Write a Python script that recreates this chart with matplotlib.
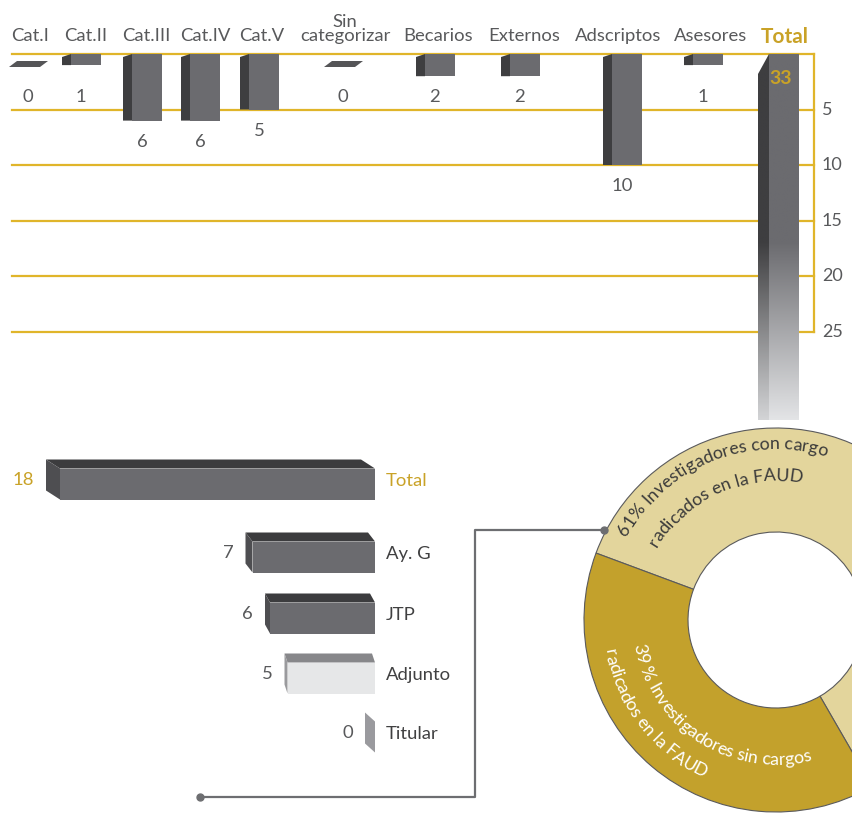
import numpy as np
import matplotlib
matplotlib.use('Agg')
import matplotlib.pyplot as plt
from matplotlib.patches import Polygon
from matplotlib.font_manager import FontProperties, findfont, get_font

plt.rcParams['font.family'] = ['Lato', 'DejaVu Sans']

W, H = 852, 813

# datos
cats = ['Cat.I', 'Cat.II', 'Cat.III', 'Cat.IV', 'Cat.V', 'Sin\ncategorizar',
        'Becarios', 'Externos', 'Adscriptos', 'Asesores', 'Total']
counts = [0, 1, 6, 6, 5, 0, 2, 2, 10, 1, 33]
ticks = [5, 10, 15, 20, 25]

cargos = ['Total', 'Ay. G', 'JTP', 'Adjunto', 'Titular']
cargo_counts = [18, 7, 6, 5, 0]

shares = [61, 39]
share_lines = [['61% Investigadores con cargo', 'radicados en la FAUD'],
               ['39 % Investigadores sin cargos', 'radicados en la FAUD']]

# layout en pixeles
cat_x = [28, 86, 147, 205, 264, 343, 440, 525, 627, 708, 784]
label_x = [30, 86, 146, 205, 262, 345, 438, 524, 618, 711, 785]
row_y = [484, 557, 618, 678, 737]
depth = [14, 7, 5, 3, 10]

GOLD = '#c9a227'
GRID = '#e0b52a'
TXT = '#58595b'
FRONT = '#6b6b6f'
SIDE = '#3e3e40'

fig = plt.figure(figsize=(W / 100, H / 100), dpi=100)
fig.patch.set_facecolor('white')

# ---- barras verticales (arriba) ----
y0, k = 54, 11.1
ax = fig.add_axes([0, 0, 1, 1])
ax.set_facecolor('none')
ax.axis('off')

for t in [0] + ticks:
    ax.plot([12, 814], [t, t], color=GRID, lw=1.6, zorder=1)
    if t:
        ax.text(822, t, str(t), ha='left', va='center', fontsize=13, color=TXT)
ax.plot([814, 814], [0, ticks[-1]], color=GRID, lw=1.6, zorder=1)


def vgrad(top, bot, start, end, n=300):
    vv = np.linspace(0, end, n)
    f = np.clip((vv - start) / (end - start), 0, 1)[:, None]
    top = np.array(matplotlib.colors.to_rgb(top))
    bot = np.array(matplotlib.colors.to_rgb(bot))
    return (top * (1 - f) + bot * f)[:, None, :]


for xc, lx, v, lab in zip(cat_x, label_x, counts, cats):
    is_total = lab == 'Total'
    if v == 0:
        ax.add_patch(Polygon([(xc - 19, 13 / k), (xc - 11, 7 / k), (xc + 20, 7 / k), (xc + 12, 13 / k)],
                             closed=True, fc='#555557', ec='none', zorder=3))
    elif not is_total:
        ax.bar(xc, v, width=30, bottom=0, color=FRONT, zorder=3)
        ax.add_patch(Polygon([(xc - 24, 3 / k), (xc - 15, 0), (xc - 15, v), (xc - 24, v)],
                             closed=True, fc=SIDE, ec='none', zorder=3))
    else:
        bar = ax.bar(xc, v, width=30, bottom=0, color='none', zorder=3)[0]
        im = ax.imshow(vgrad(FRONT, '#e3e4e6', 17, v), extent=(xc - 15, xc + 15, v, 0),
                       origin='upper', aspect='auto', interpolation='bilinear', zorder=3)
        im.set_clip_path(bar)
        side = Polygon([(xc - 26, 20 / k), (xc - 15, 0), (xc - 15, v), (xc - 26, v)],
                       closed=True, fc='none', ec='none')
        ax.add_patch(side)
        im2 = ax.imshow(vgrad(SIDE, '#d3d4d6', 17, v), extent=(xc - 26, xc - 15, v, 0),
                        origin='upper', aspect='auto', interpolation='bilinear', zorder=3)
        im2.set_clip_path(side)

    # etiquetas
    if is_total:
        ax.text(lx, -7 / k, lab, ha='center', va='bottom', fontsize=15,
                fontweight='bold', color=GOLD)
        ax.text(xc - 3, 24 / k, str(v), ha='center', va='center', fontsize=14,
                fontweight='bold', color=GOLD, zorder=5)
    else:
        ax.text(lx, -10 / k, lab, ha='center', va='bottom',
                fontsize=13.3, color=TXT, linespacing=0.85)
        ax.text(xc if v == 0 else xc - 5, max(v, 2) + 1.9, str(v), ha='center',
                va='center', fontsize=13.3, color=TXT)

ax.set_xlim(0, W)
ax.set_ylim((H - y0) / k, -y0 / k)

# ---- barras horizontales ----
s = 17.5
axh = fig.add_axes([0, 0, 1, 1])
axh.set_facecolor('none')
axh.axis('off')

front_c = [FRONT, FRONT, FRONT, '#e6e7e8', '#9a9a9e']
top_c = ['#3c3c3e', '#3c3c3e', '#3c3c3e', '#87878a', '#9a9a9e']
left_c = ['#4e4e51', '#4e4e51', '#4e4e51', '#9a9a9d', '#9a9a9e']
hb = 15.5
for yc, v, lab, d, fc, tc, lc in zip(row_y, cargo_counts, cargos, depth, front_c, top_c, left_c):
    if v > 0:
        axh.barh(yc, v, height=2 * hb, left=0, color=fc, zorder=3)
        axh.add_patch(Polygon([(v, yc - hb), (0, yc - hb), (d / s, yc - hb - 9), (v + d / s, yc - hb - 9)],
                              closed=True, fc=tc, ec='none', zorder=3))
    axh.add_patch(Polygon([(v, yc - hb), (v + d / s, yc - hb - 9), (v + d / s, yc + hb - 9), (v, yc + hb)],
                          closed=True, fc=lc, ec='none', zorder=3))
    col = GOLD if lab == 'Total' else '#404041'
    axh.text(v + (d + 12) / s, yc - 4, str(v), ha='right', va='center', fontsize=13.3,
             color=GOLD if lab == 'Total' else TXT)
    axh.text(-11 / s, yc - 3, lab, ha='left', va='center', fontsize=13.3, color=col)

axh.set_xlim(375 / s, (375 - W) / s)
axh.set_ylim(H, 0)

# ---- anillo ----
axd = fig.add_axes([0, 0, 1, 1])
axd.set_facecolor('none')
axd.axis('off')
cx, cy = 776, H - 620
axd.pie(shares, colors=['#e3d59c', '#c3a12c'], startangle=-60, center=(cx, cy),
        radius=192, wedgeprops=dict(width=104, edgecolor='#5a5a5c', linewidth=0.8))

# conector
axd.plot([200, 475, 475, 604], [H - 797, H - 797, H - 530, H - 530],
         color='#6d6e71', lw=1.6, zorder=4)
axd.plot([200, 604], [H - 797, H - 530], 'o', color='#6d6e71', ms=5, zorder=4)


def arc_text(s_, r, a0, fs, color, ccw, align):
    fp = FontProperties(family='Lato', size=fs)
    font = get_font(findfont(fp))
    font.set_size(fs, 72)
    adv = [font.load_char(ord(ch)).linearHoriAdvance / 65536 * 100 / 72 for ch in s_]
    span = sum(adv) / r
    sign = 1 if ccw else -1
    start = np.radians(a0) - (sign * span / 2 if align == 'center' else 0)
    pos = 0
    for ch, w in zip(s_, adv):
        a = start + sign * (pos + w / 2) / r
        pos += w
        rot = np.degrees(a) + (90 if ccw else -90)
        axd.text(cx + r * np.cos(a), cy + r * np.sin(a), ch, rotation=rot,
                 rotation_mode='anchor', ha='center', va='baseline', fontsize=fs,
                 color=color, zorder=5)


arc_text(share_lines[0][0], 171, 112, 12.8, '#3a3a3a', False, 'center')
arc_text(share_lines[0][1], 139, 114, 12.8, '#3a3a3a', False, 'center')
arc_text(share_lines[1][0], 145, 190, 12.8, 'white', True, 'left')
arc_text(share_lines[1][1], 174, 190, 12.8, 'white', True, 'left')

axd.set_xlim(0, W)
axd.set_ylim(0, H)
axd.set_aspect('auto')

fig.savefig('out.png', dpi=100)
